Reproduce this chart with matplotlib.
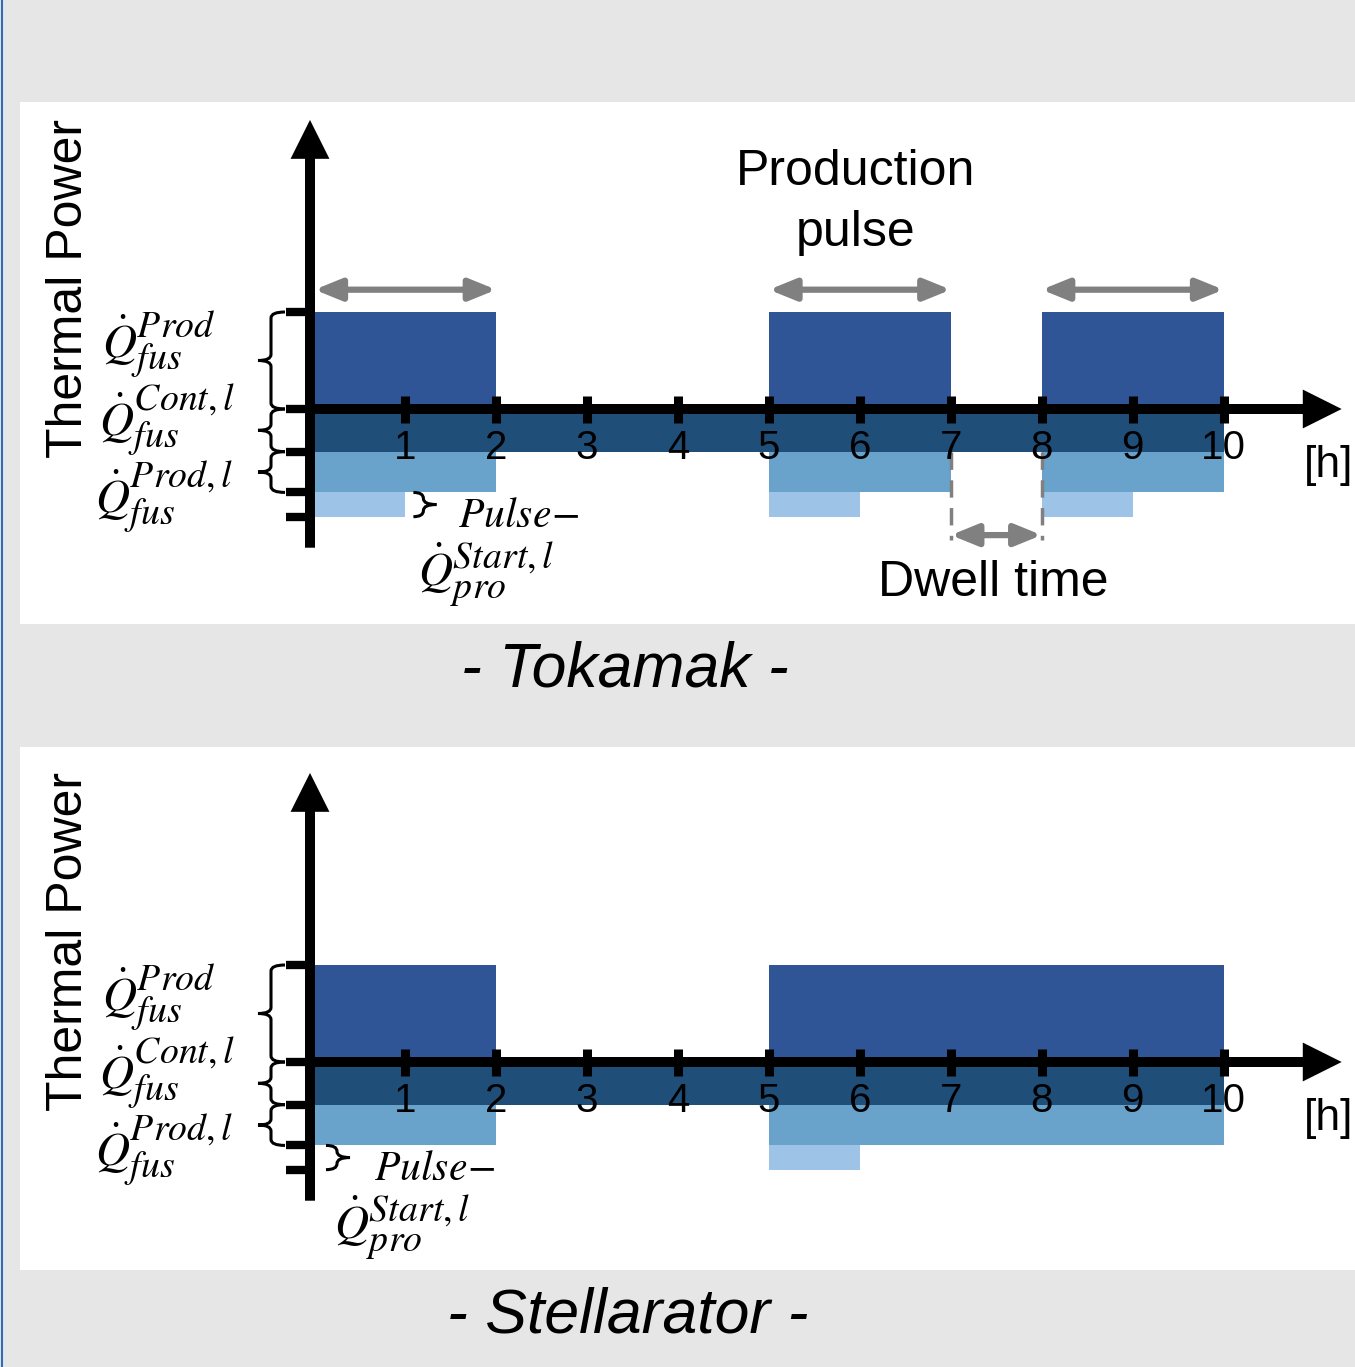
import matplotlib
matplotlib.use('Agg')
import matplotlib.pyplot as plt
import matplotlib._mathtext as mathtext_impl
from matplotlib.path import Path
from matplotlib.patches import PathPatch
from matplotlib.lines import Line2D

plt.rcParams['font.family'] = ['Liberation Sans', 'DejaVu Sans']
plt.rcParams['mathtext.fontset'] = 'stix'
# larger sub/superscripts, closer to the Cambria Math look of the original
mathtext_impl.SHRINK_FACTOR = 0.8

# ---- data (hours, relative thermal power) ----
hours = [1, 2, 3, 4, 5, 6, 7, 8, 9, 10]
tick_labels = ['1', '2', '3', '4', '5', '6', '7', '8', '9', '10']

tok_pulse_start = [0, 5, 8]
tok_pulse_len = [2, 2, 2]
tok_ramp_start = [0, 5, 8]
tok_ramp_len = [1, 1, 1]

stel_pulse_start = [0, 5]
stel_pulse_len = [2, 5]
stel_ramp_start = [5]
stel_ramp_len = [1]

q_prod = 1.0       # production power above the axis
q_cont_l = 0.44    # continuous load
q_prod_l = 0.42    # load during production
q_start_l = 0.25   # load at pulse start
t_end = 10

dwell = [7, 8]

C_PROD = '#2f5597'
C_CONT = '#1f4e79'
C_PRODL = '#69a3cc'
C_START = '#9dc3e6'
C_GRAY = '#808080'
BG = '#e6e6e6'

# pixel scale of the panels
PX_H = 1 / 90.9   # hours per pixel
PX_P = 1 / 97.0   # power units per pixel

W, H = 1355, 1367
fig = plt.figure(figsize=(W / 100, H / 100), dpi=100, facecolor=BG)
fig.add_artist(Line2D([1.5 / W, 1.5 / W], [0, 1], color='#2e6db4', lw=1.5))


def make_panel(top_px, bot_px, axis_px):
    ax = fig.add_axes([20 / W, 1 - bot_px / H, (W - 20) / W, (bot_px - top_px) / H])
    ax.set_xlim((20 - 314.5) * PX_H, (W - 314.5) * PX_H)
    ax.set_ylim(-(bot_px - axis_px) * PX_P, (axis_px - top_px) * PX_P)
    ax.set_facecolor('white')
    for sp in ax.spines.values():
        sp.set_visible(False)
    ax.set_xticks([])
    ax.set_yticks([])
    return ax


def brace(ax, x_line, y_top, y_bot, hook, tip):
    ym = (y_top + y_bot) / 2
    d = 6 * PX_P
    verts = [(hook, y_top), (x_line, y_top), (x_line, y_top - d),
             (x_line, ym + d), (x_line, ym), (tip, ym),
             (x_line, ym), (x_line, ym - d),
             (x_line, y_bot + d), (x_line, y_bot), (hook, y_bot)]
    codes = [Path.MOVETO, Path.CURVE3, Path.CURVE3, Path.LINETO,
             Path.CURVE3, Path.CURVE3, Path.CURVE3, Path.CURVE3,
             Path.LINETO, Path.CURVE3, Path.CURVE3]
    ax.add_patch(PathPatch(Path(verts, codes), fill=False, lw=2.2,
                           color='black', zorder=5, clip_on=False))


def draw_panel(ax, pulse_start, pulse_len, ramp_start, ramp_len, tokamak):
    lv0 = -q_cont_l
    lv1 = lv0 - q_prod_l
    lv2 = lv1 - q_start_l

    # bars
    ax.bar(pulse_start, q_prod, width=pulse_len, align='edge', color=C_PROD, zorder=1)
    ax.bar([0], [-q_cont_l], width=t_end, align='edge', color=C_CONT, zorder=1)
    ax.bar(pulse_start, -q_prod_l, width=pulse_len, bottom=lv0, align='edge',
           color=C_PRODL, zorder=1)
    ax.bar(ramp_start, -q_start_l, width=ramp_len, bottom=lv1, align='edge',
           color=C_START, zorder=1)

    # axes with arrows
    ax_x = -4.5 * PX_H
    head = dict(arrowstyle='simple,head_length=2.8,head_width=2.8,tail_width=0.72',
                mutation_scale=10, color='black', lw=0, shrinkA=0, shrinkB=0)
    ax.annotate('', xy=(ax_x, 2.98), xytext=(ax_x, -1.43), arrowprops=head,
                annotation_clip=False, zorder=4)
    ax.annotate('', xy=(11.3, 0), xytext=(ax_x, 0), arrowprops=head,
                annotation_clip=False, zorder=4)

    # ticks
    ax.vlines(hours, -13.5 * PX_P, 13.5 * PX_P, colors='black', lw=6.5, zorder=4)
    levels = [q_prod, 0, lv0, lv1, lv2]
    ax.hlines(levels, ax_x - 24 * PX_H, ax_x, colors='black', lw=6, zorder=4)
    for h, lab in zip(hours, tick_labels):
        ax.text(h, -39 * PX_P, lab, ha='center', va='center', fontsize=29, zorder=6)
    ax.text(11.16, -0.58, '[h]', ha='center', va='center', fontsize=32)

    # y label
    ax.text(-2.70, 1.24, 'Thermal Power', rotation=90, ha='center', va='center',
            fontsize=36)

    # braces and power labels
    bx, bh, bt = (271 - 314.5) * PX_H, (285 - 314.5) * PX_H, (258 - 314.5) * PX_H
    brace(ax, bx, q_prod, 0, bh, bt)
    brace(ax, bx, 0, lv0, bh, bt)
    brace(ax, bx, lv0, lv1, bh, bt)
    lx = -2.34
    ax.text(lx, 0.66, r'$\dot{Q}_{fus}^{Prod}$', ha='left', va='center', fontsize=34)
    ax.text(lx - 0.03, -0.12, r'$\dot{Q}_{fus}^{Cont,l}$', ha='left', va='center', fontsize=34)
    ax.text(lx - 0.07, -0.92, r'$\dot{Q}_{fus}^{Prod,l}$', ha='left', va='center', fontsize=34)

    if tokamak:
        px0 = ramp_start[0] + ramp_len[0]
        brace(ax, px0 + 18 * PX_H, lv1, lv2, px0 + 8 * PX_H, px0 + 31 * PX_H)
        tx = px0 + 53 * PX_H
    else:
        brace(ax, ax_x + 27 * PX_H, lv1, lv2, ax_x + 16 * PX_H, ax_x + 40 * PX_H)
        tx = ax_x + 64 * PX_H
    ax.text(tx, lv2 + 0.01, r'$Pulse\!-$', ha='left', va='center', fontsize=30)
    ax.text(tx - 40 * PX_H, lv2 - 0.6, r'$\dot{Q}_{pro}^{Start,l}$', ha='left',
            va='center', fontsize=34)

    if tokamak:
        garrow = dict(arrowstyle='<|-|>,head_length=1.6,head_width=0.65',
                      mutation_scale=10, color=C_GRAY, lw=4.5, shrinkA=0, shrinkB=0)
        for s, l in zip(pulse_start, pulse_len):
            ax.annotate('', xy=(s + l, 1.23), xytext=(s, 1.23), arrowprops=garrow, zorder=3)
        ax.text(5.95, 2.13, 'Production\npulse', ha='center', va='center', fontsize=36,
                linespacing=1.4)
        ax.vlines(dwell, lv0, -1.35, colors=C_GRAY, lw=2.5, linestyles=(0, (5, 3)), zorder=3)
        ax.annotate('', xy=(dwell[1], -1.30), xytext=(dwell[0], -1.30),
                    arrowprops=garrow, zorder=3)
        ax.text(sum(dwell) / 2 - 0.03, -1.79, 'Dwell time', ha='center', va='center',
                fontsize=36)


ax1 = make_panel(102, 624, 409)
draw_panel(ax1, tok_pulse_start, tok_pulse_len, tok_ramp_start, tok_ramp_len, True)
ax2 = make_panel(747, 1270, 1062)
draw_panel(ax2, stel_pulse_start, stel_pulse_len, stel_ramp_start, stel_ramp_len, False)

fig.text(625 / W, 1 - 670 / H, '- Tokamak -', ha='center', va='center', fontsize=45,
         style='italic')
fig.text(628 / W, 1 - 1316 / H, '- Stellarator -', ha='center', va='center', fontsize=45,
         style='italic')

fig.savefig('out.png', dpi=100, facecolor=BG)
